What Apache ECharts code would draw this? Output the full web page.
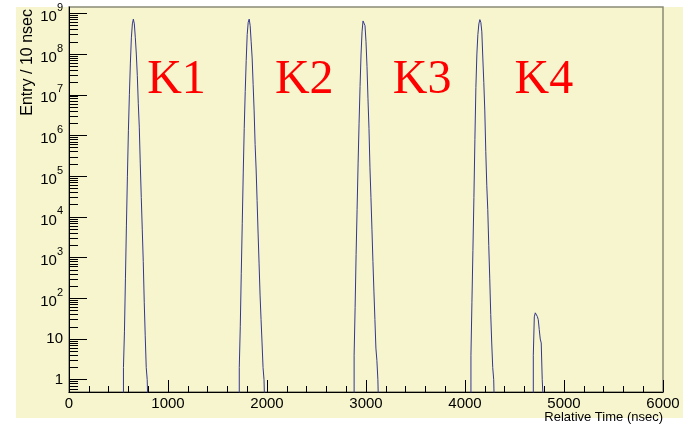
<!DOCTYPE html>
<html>
<head>
<meta charset="utf-8">
<script src="https://cdn.jsdelivr.net/npm/echarts@6/dist/echarts.min.js"></script>
<style>
    html, body { margin: 0; padding: 0; background: #ffffff; }
    #wrap { position: relative; width: 683px; height: 426px; }
    #pad { position: absolute; left: 16px; top: 7px; width: 667px; height: 411px; background: #f6f5cd; }
    #chart { position: absolute; left: 0; top: 0; width: 683px; height: 426px; }
</style>
</head>
<body>
<div id="wrap">
    <div id="pad"></div>
    <div id="chart"></div>
</div>
<script>
// histogram, 10 ns bins: first bin edge of each peak + counts per bin
const binWidth = 10;
const k1Start = 550;
const k1Counts = [2, 15, 300, 6e3, 1e5, 1.3e6, 1e7, 6e7, 2.5e8, 5.5e8, 7.2e8, 5.5e8, 2.5e8,
    1e8, 3e7, 6e6, 1.6e6, 2e5, 3e4, 5e3, 800, 80, 12, 2, 1];
const k2Start = 1720;
const k2Counts = [2, 20, 400, 7e3, 1.2e5, 1.5e6, 1.2e7, 7e7, 3e8, 6e8, 7.2e8, 5e8, 2e8,
    8e7, 1.8e7, 4e6, 6e5, 1.5e5, 2.5e4, 4e3, 700, 120, 30, 8, 2, 1];
const k3Start = 2880;
const k3Counts = [4, 60, 1.2e3, 1.5e4, 2e5, 2e6, 1.6e7, 1e8, 3.5e8, 6.5e8, 7.2e8, 5e8, 2e8,
    5e7, 8e6, 1.5e6, 1.6e5, 3e4, 5e3, 800, 150, 30, 6, 3, 1];
const k4Start = 4060;
const k4Counts = [4, 80, 1.5e3, 3e4, 8e5, 1.5e7, 1e8, 3e8, 5.5e8, 7e8, 6e8, 3.5e8, 8e7,
    2e7, 4e6, 4e5, 6e4, 1.5e4, 2e3, 300, 40, 8, 2, 1];
const k5Start = 4690;
const k5Counts = [4, 35, 44, 42, 36, 30, 17, 10, 8, 1, 1];

const peakLabels = ['K1', 'K2', 'K3', 'K4'];
const peakLabelX = [790, 2080, 3270, 4500];
const peakLabelY = 2.2e7;

const yMajor = [1, 10, 1e2, 1e3, 1e4, 1e5, 1e6, 1e7, 1e8, 1e9];

const xMin = 0;
const xMax = 6000;
const yMin = 0.5;
const yMax = 1.43e9;
const floorValue = 0.1;

// minor ticks 2..9 inside each decade (ROOT style)
const yMinor = [];
for (let d = -1; d <= 9; d++) {
    for (let m = 2; m <= 9; m++) {
        const v = m * Math.pow(10, d);
        if (v > yMin && v < yMax) yMinor.push(v);
    }
}

function histPoints(start, counts) {
    const pts = [[start, floorValue]];
    counts.forEach((c, i) => pts.push([start + i * binWidth, c]));
    pts.push([start + counts.length * binWidth, floorValue]);
    return pts;
}

const histData = [].concat(
    histPoints(k1Start, k1Counts),
    histPoints(k2Start, k2Counts),
    histPoints(k3Start, k3Counts),
    histPoints(k4Start, k4Counts),
    histPoints(k5Start, k5Counts)
);

const sans = 'Liberation Sans';

const chart = echarts.init(document.getElementById('chart'));
chart.setOption({
    animation: false,
    backgroundColor: 'transparent',
    grid: {
        left: 69, right: 20, top: 7, bottom: 34,
        containLabel: false,
        outerBoundsMode: 'none',
        show: true,
        backgroundColor: 'transparent',
        borderColor: '#8b8a76',
        borderWidth: 1.5
    },
    xAxis: {
        type: 'value',
        min: xMin,
        max: xMax,
        interval: 1000,
        axisLine: { lineStyle: { color: '#000', width: 1 } },
        axisTick: { inside: true, length: 12, lineStyle: { color: '#000' } },
        minorTick: { show: true, splitNumber: 5, length: 6, lineStyle: { color: '#000' } },
        axisLabel: {
            color: '#000', fontSize: 15, fontFamily: sans, margin: 4,
            formatter: function (v) { return String(v); }
        },
        splitLine: { show: false },
        minorSplitLine: { show: false }
    },
    yAxis: [
        {
            type: 'log',
            logBase: 10,
            min: yMin,
            max: yMax,
            position: 'left',
            axisLine: { show: true, onZero: false, lineStyle: { color: '#000', width: 1 } },
            axisTick: { show: true, inside: true, length: 18, customValues: yMajor, lineStyle: { color: '#000' } },
            axisLabel: {
                customValues: yMajor,
                margin: 6,
                formatter: function (v) {
                    const e = Math.round(Math.log10(v));
                    if (e === 0) return '{b|1}';
                    if (e === 1) return '{b|10}';
                    return '{b|10}{s|' + e + '}';
                },
                rich: {
                    b: { fontSize: 15, fontFamily: sans, color: '#000', verticalAlign: 'bottom' },
                    s: { fontSize: 11, lineHeight: 22, fontFamily: sans, color: '#000', verticalAlign: 'top' }
                }
            },
            splitLine: { show: false },
            minorTick: { show: false }
        },
        {
            type: 'log',
            logBase: 10,
            min: yMin,
            max: yMax,
            position: 'left',
            axisLine: { show: false },
            axisTick: { show: true, inside: true, length: 9, customValues: yMinor, lineStyle: { color: '#000' } },
            axisLabel: { show: false },
            splitLine: { show: false }
        }
    ],
    series: [
        {
            type: 'line',
            step: 'end',
            data: histData,
            symbol: 'none',
            clip: true,
            xAxisIndex: 0,
            yAxisIndex: 0,
            lineStyle: { color: '#34378f', width: 1 }
        }
    ]
});

// labels anchored in data coordinates
const texts = peakLabels.map((t, i) => {
    const p = chart.convertToPixel({ xAxisIndex: 0, yAxisIndex: 0 }, [peakLabelX[i], peakLabelY]);
    return {
        type: 'text',
        x: p[0],
        y: p[1],
        silent: true,
        style: {
            text: t,
            fill: '#ff0000',
            fontSize: 48,
            fontFamily: 'Liberation Serif',
            align: 'left',
            verticalAlign: 'middle'
        }
    };
});

// axis titles
const corner = chart.convertToPixel({ xAxisIndex: 0, yAxisIndex: 0 }, [xMax, yMin]);
texts.push({
    type: 'text',
    x: corner[0],
    y: corner[1] + 19,
    silent: true,
    style: {
        text: 'Relative Time (nsec)',
        fill: '#000',
        fontSize: 13,
        fontFamily: sans,
        align: 'right',
        verticalAlign: 'top'
    }
});
texts.push({
    type: 'text',
    x: 28,
    y: 9,
    rotation: Math.PI / 2,
    silent: true,
    style: {
        text: 'Entry / 10 nsec',
        fill: '#000',
        fontSize: 16,
        fontFamily: sans,
        align: 'right',
        verticalAlign: 'middle'
    }
});
chart.setOption({ graphic: texts });
</script>
</body>
</html>
